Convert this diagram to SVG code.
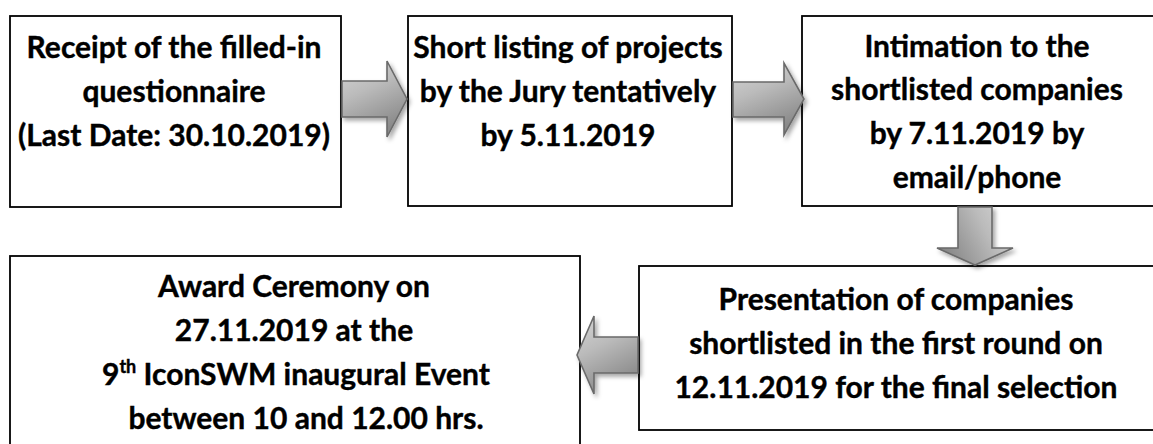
<svg xmlns="http://www.w3.org/2000/svg" width="1153" height="444" viewBox="0 0 1153 444">
<style>
.box{fill:#fff;stroke:#000;stroke-width:1.8}
.t{font-family:Lato,"Open Sans","Liberation Sans",sans-serif;font-weight:bold;font-size:30px;fill:#000;text-anchor:middle;stroke:#000;stroke-width:0.4}
.arr{stroke:#6a6a6a;stroke-width:1.6;stroke-linejoin:miter;filter:url(#sh)}
</style>
<defs>
<linearGradient id="gh" x1="0" y1="0" x2="0.4" y2="1">
<stop offset="0" stop-color="#d6d6d6"/>
<stop offset="0.45" stop-color="#bbbbbb"/>
<stop offset="1" stop-color="#8a8a8a"/>
</linearGradient>
<linearGradient id="gv" x1="1" y1="0" x2="0" y2="0.4">
<stop offset="0" stop-color="#d6d6d6"/>
<stop offset="0.45" stop-color="#bbbbbb"/>
<stop offset="1" stop-color="#8a8a8a"/>
</linearGradient>
<filter id="sh" x="-20%" y="-20%" width="150%" height="150%">
<feDropShadow dx="2.5" dy="3" stdDeviation="2" flood-color="#000" flood-opacity="0.35"/>
</filter>
</defs>
<rect width="1153" height="444" fill="#fff"/>
<g id="n1">
<rect class="box" x="10" y="16" width="331" height="191"/>
<text class="t" x="174" y="58">Receipt of the filled-in</text>
<text class="t" x="174" y="102">questionnaire</text>
<text class="t" x="174" y="146">(Last Date: 30.10.2019)</text>
</g>
<g id="n2">
<rect class="box" x="408" y="16" width="324" height="190"/>
<text class="t" x="568" y="58">Short listing of projects</text>
<text class="t" x="568" y="102">by the Jury tentatively</text>
<text class="t" x="568" y="146">by 5.11.2019</text>
</g>
<g id="n3">
<rect class="box" x="802" y="16" width="360" height="190"/>
<text class="t" x="977" y="57">Intimation to the</text>
<text class="t" x="977" y="100">shortlisted companies</text>
<text class="t" x="977" y="144">by 7.11.2019 by</text>
<text class="t" x="977" y="188">email/phone</text>
</g>
<g id="n4">
<rect class="box" x="639" y="266" width="530" height="164"/>
<text class="t" x="896" y="310">Presentation of companies</text>
<text class="t" x="896" y="354">shortlisted in the first round on</text>
<text class="t" x="896" y="398">12.11.2019 for the final selection</text>
</g>
<g id="n5">
<rect class="box" x="10" y="256" width="570" height="200"/>
<text class="t" x="294" y="297">Award Ceremony on</text>
<text class="t" x="294" y="341">27.11.2019 at the</text>
<text class="t" x="296" y="385">9<tspan font-size="18" dy="-12">th</tspan><tspan dy="12"> IconSWM inaugural Event</tspan></text>
<text class="t" x="306" y="429">between 10 and 12.00 hrs.</text>
</g>
<g id="connectors">
<polygon class="arr" fill="url(#gh)" points="342,81 387,81 387,61 407,99 387,137 387,117 342,117"/>
<polygon class="arr" fill="url(#gh)" points="733,82 784,82 784,63 804,99 784,135 784,117 733,117"/>
<polygon class="arr" fill="url(#gv)" points="958,207 992,207 992,248 1013,248 975,265 937,248 958,248"/>
<polygon class="arr" fill="url(#gh)" points="638,337 594,337 594,316 577,355 594,394 594,373 638,373"/>
</g>
</svg>
